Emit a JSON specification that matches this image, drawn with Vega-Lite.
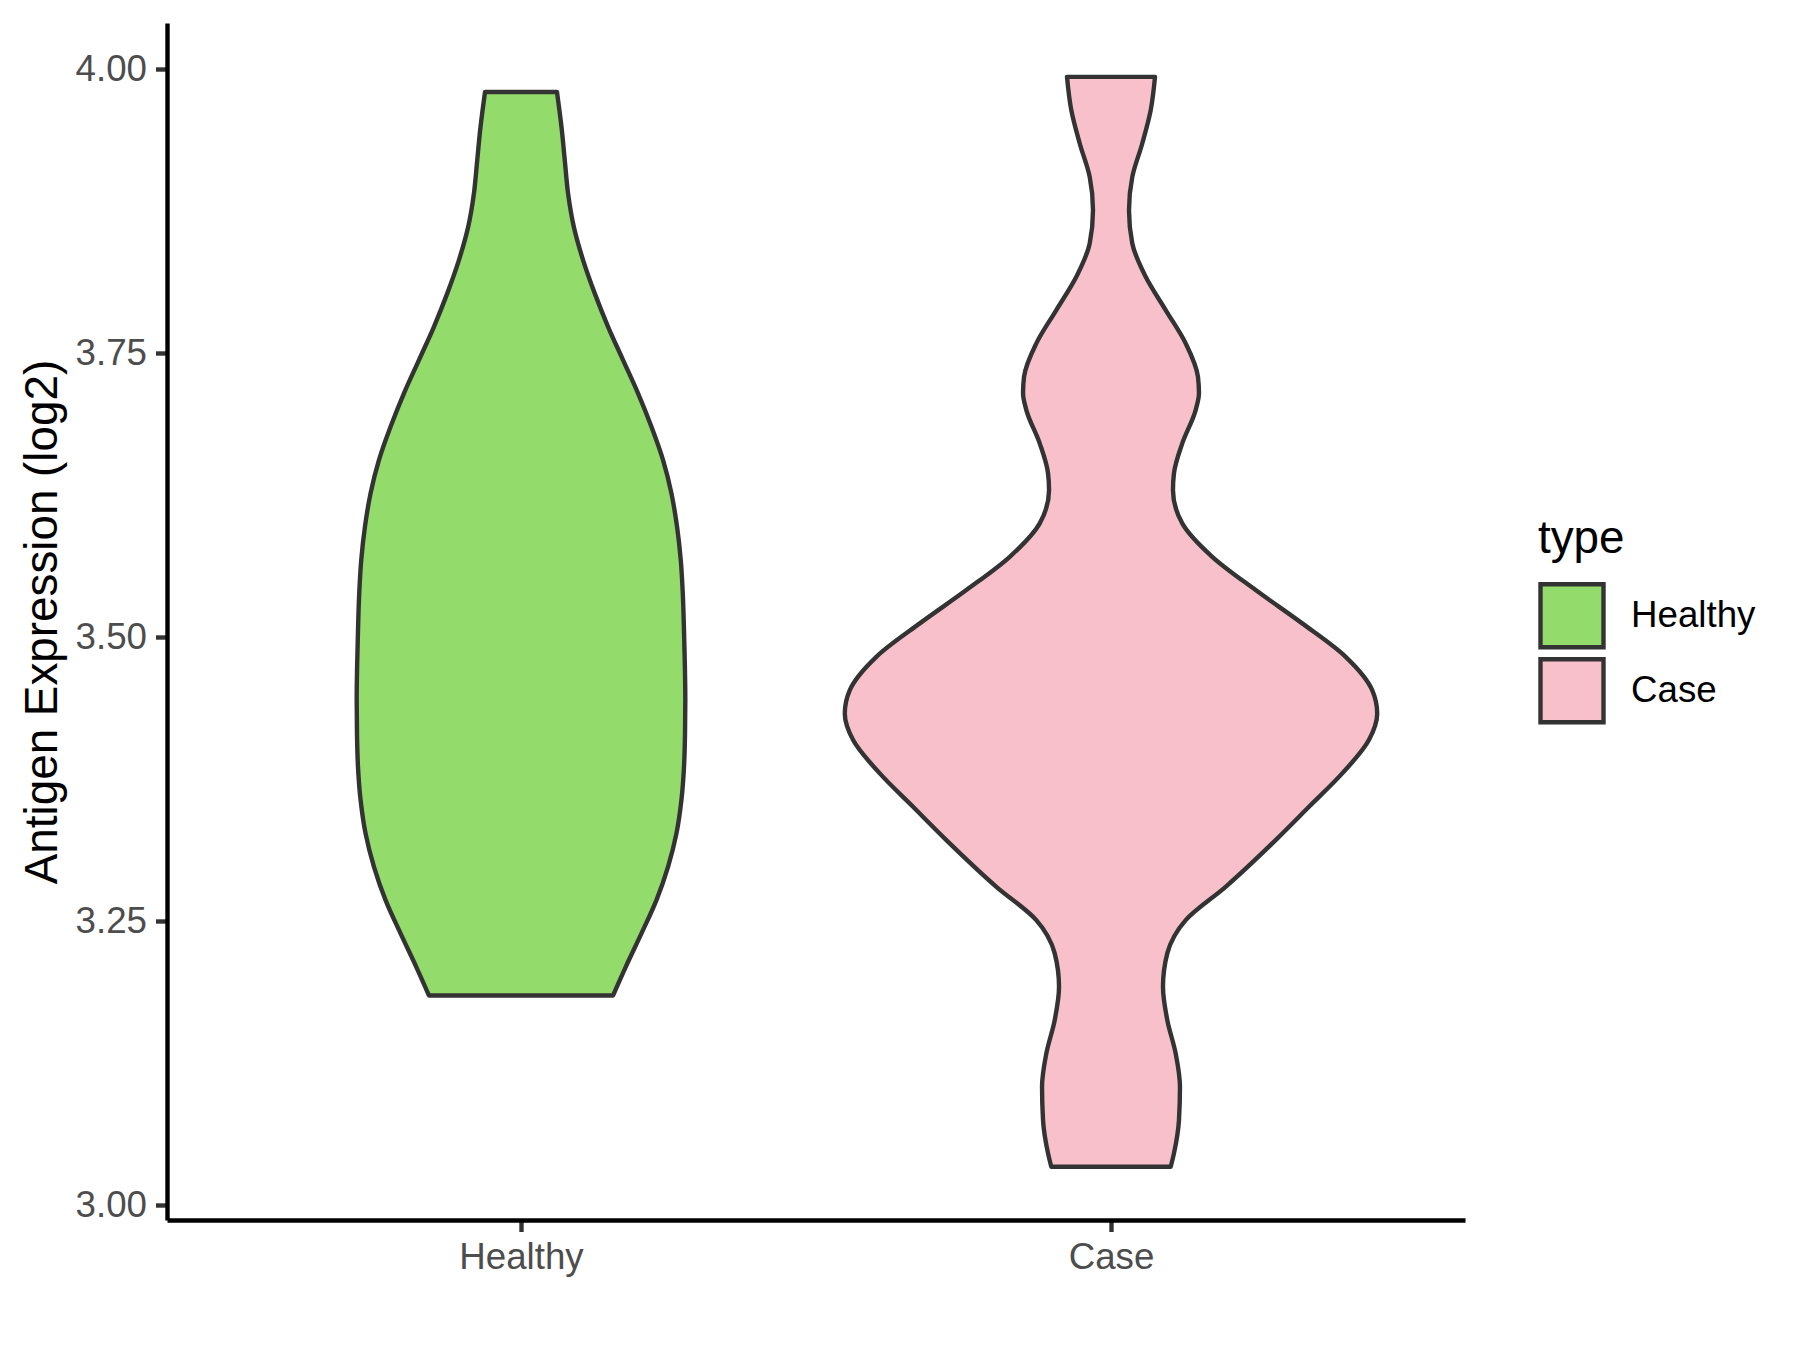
{
  "$schema": "https://vega.github.io/schema/vega-lite/v6.json",
  "width": 1298,
  "height": 1197,
  "autosize": {"type": "none"},
  "padding": {"left": 167, "top": 23, "right": 335, "bottom": 130},
  "background": "white",
  "config": {"view": {"stroke": null}, "font": "Liberation Sans"},
  "data": {
    "values": [
      {"type": "Healthy", "y": 3.9798, "xmin": 0.9390, "xmax": 1.0610},
      {"type": "Healthy", "y": 3.9491, "xmin": 0.9314, "xmax": 1.0686},
      {"type": "Healthy", "y": 3.9198, "xmin": 0.9258, "xmax": 1.0742},
      {"type": "Healthy", "y": 3.8905, "xmin": 0.9202, "xmax": 1.0798},
      {"type": "Healthy", "y": 3.8612, "xmin": 0.9105, "xmax": 1.0895},
      {"type": "Healthy", "y": 3.8319, "xmin": 0.8948, "xmax": 1.1052},
      {"type": "Healthy", "y": 3.8026, "xmin": 0.8750, "xmax": 1.1250},
      {"type": "Healthy", "y": 3.7732, "xmin": 0.8524, "xmax": 1.1476},
      {"type": "Healthy", "y": 3.7439, "xmin": 0.8270, "xmax": 1.1730},
      {"type": "Healthy", "y": 3.7146, "xmin": 0.8016, "xmax": 1.1984},
      {"type": "Healthy", "y": 3.6852, "xmin": 0.7789, "xmax": 1.2211},
      {"type": "Healthy", "y": 3.6559, "xmin": 0.7592, "xmax": 1.2408},
      {"type": "Healthy", "y": 3.6266, "xmin": 0.7450, "xmax": 1.2550},
      {"type": "Healthy", "y": 3.5972, "xmin": 0.7355, "xmax": 1.2645},
      {"type": "Healthy", "y": 3.5679, "xmin": 0.7292, "xmax": 1.2708},
      {"type": "Healthy", "y": 3.5386, "xmin": 0.7258, "xmax": 1.2742},
      {"type": "Healthy", "y": 3.5034, "xmin": 0.7236, "xmax": 1.2764},
      {"type": "Healthy", "y": 3.4740, "xmin": 0.7222, "xmax": 1.2778},
      {"type": "Healthy", "y": 3.4447, "xmin": 0.7215, "xmax": 1.2785},
      {"type": "Healthy", "y": 3.4154, "xmin": 0.7220, "xmax": 1.2780},
      {"type": "Healthy", "y": 3.3860, "xmin": 0.7237, "xmax": 1.2763},
      {"type": "Healthy", "y": 3.3567, "xmin": 0.7281, "xmax": 1.2719},
      {"type": "Healthy", "y": 3.3274, "xmin": 0.7365, "xmax": 1.2635},
      {"type": "Healthy", "y": 3.2980, "xmin": 0.7508, "xmax": 1.2492},
      {"type": "Healthy", "y": 3.2687, "xmin": 0.7704, "xmax": 1.2296},
      {"type": "Healthy", "y": 3.2394, "xmin": 0.7958, "xmax": 1.2042},
      {"type": "Healthy", "y": 3.2100, "xmin": 0.8224, "xmax": 1.1776},
      {"type": "Healthy", "y": 3.1848, "xmin": 0.8440, "xmax": 1.1560},
      {"type": "Case", "y": 3.9931, "xmin": 1.9254, "xmax": 2.0746},
      {"type": "Case", "y": 3.9638, "xmin": 1.9327, "xmax": 2.0673},
      {"type": "Case", "y": 3.9345, "xmin": 1.9470, "xmax": 2.0530},
      {"type": "Case", "y": 3.9051, "xmin": 1.9639, "xmax": 2.0361},
      {"type": "Case", "y": 3.8758, "xmin": 1.9695, "xmax": 2.0305},
      {"type": "Case", "y": 3.8465, "xmin": 1.9639, "xmax": 2.0361},
      {"type": "Case", "y": 3.8172, "xmin": 1.9412, "xmax": 2.0588},
      {"type": "Case", "y": 3.7879, "xmin": 1.9073, "xmax": 2.0927},
      {"type": "Case", "y": 3.7586, "xmin": 1.8734, "xmax": 2.1266},
      {"type": "Case", "y": 3.7292, "xmin": 1.8526, "xmax": 2.1474},
      {"type": "Case", "y": 3.7146, "xmin": 1.8509, "xmax": 2.1491},
      {"type": "Case", "y": 3.6999, "xmin": 1.8565, "xmax": 2.1435},
      {"type": "Case", "y": 3.6706, "xmin": 1.8792, "xmax": 2.1208},
      {"type": "Case", "y": 3.6442, "xmin": 1.8933, "xmax": 2.1067},
      {"type": "Case", "y": 3.6295, "xmin": 1.8950, "xmax": 2.1050},
      {"type": "Case", "y": 3.6002, "xmin": 1.8792, "xmax": 2.1208},
      {"type": "Case", "y": 3.5708, "xmin": 1.8284, "xmax": 2.1716},
      {"type": "Case", "y": 3.5415, "xmin": 1.7548, "xmax": 2.2452},
      {"type": "Case", "y": 3.5122, "xmin": 1.6759, "xmax": 2.3241},
      {"type": "Case", "y": 3.4828, "xmin": 1.6023, "xmax": 2.3977},
      {"type": "Case", "y": 3.4535, "xmin": 1.5573, "xmax": 2.4427},
      {"type": "Case", "y": 3.4330, "xmin": 1.5488, "xmax": 2.4512},
      {"type": "Case", "y": 3.4095, "xmin": 1.5629, "xmax": 2.4371},
      {"type": "Case", "y": 3.3802, "xmin": 1.6081, "xmax": 2.3919},
      {"type": "Case", "y": 3.3508, "xmin": 1.6645, "xmax": 2.3355},
      {"type": "Case", "y": 3.3215, "xmin": 1.7209, "xmax": 2.2791},
      {"type": "Case", "y": 3.2804, "xmin": 1.8057, "xmax": 2.1943},
      {"type": "Case", "y": 3.2511, "xmin": 1.8734, "xmax": 2.1266},
      {"type": "Case", "y": 3.2218, "xmin": 1.9046, "xmax": 2.0954},
      {"type": "Case", "y": 3.1924, "xmin": 1.9119, "xmax": 2.0881},
      {"type": "Case", "y": 3.1631, "xmin": 1.9046, "xmax": 2.0954},
      {"type": "Case", "y": 3.1338, "xmin": 1.8904, "xmax": 2.1096},
      {"type": "Case", "y": 3.1044, "xmin": 1.8831, "xmax": 2.1169},
      {"type": "Case", "y": 3.0751, "xmin": 1.8848, "xmax": 2.1152},
      {"type": "Case", "y": 3.0458, "xmin": 1.8933, "xmax": 2.1067},
      {"type": "Case", "y": 3.0340, "xmin": 1.8988, "xmax": 2.1012}
    ]
  },
  "mark": {
    "type": "area",
    "orient": "horizontal",
    "interpolate": "monotone",
    "stroke": "#333333",
    "strokeWidth": 4.4,
    "strokeJoin": "round",
    "fillOpacity": 1
  },
  "encoding": {
    "y": {
      "field": "y",
      "type": "quantitative",
      "scale": {"domain": [2.9872, 4.0405], "nice": false, "zero": false},
      "axis": {
        "values": [3, 3.25, 3.5, 3.75, 4],
        "format": ".2f",
        "grid": false,
        "title": "Antigen Expression (log2)",
        "titleFont": "Liberation Sans",
        "titleFontSize": 45.8,
        "titleFontWeight": "normal",
        "titleColor": "black",
        "titleX": -111,
        "titleY": 598.5,
        "titleAngle": -90,
        "titleBaseline": "alphabetic",
        "titleAlign": "center",
        "labelFont": "Liberation Sans",
        "labelFontSize": 36.7,
        "labelColor": "#4D4D4D",
        "labelPadding": 9,
        "labelFlush": false,
        "labelOverlap": false,
        "tickSize": 11.5,
        "tickWidth": 4.4,
        "tickColor": "#333333",
        "domainColor": "black",
        "domainWidth": 4.4
      }
    },
    "x": {
      "field": "xmin",
      "type": "quantitative",
      "stack": null,
      "scale": {"domain": [0.4, 2.6], "nice": false, "zero": false},
      "axis": {
        "values": [1, 2],
        "labelExpr": "datum.value == 1 ? 'Healthy' : 'Case'",
        "title": null,
        "grid": false,
        "labelFont": "Liberation Sans",
        "labelFontSize": 36.7,
        "labelColor": "#4D4D4D",
        "labelPadding": 8,
        "labelFlush": false,
        "labelOverlap": false,
        "tickSize": 11.5,
        "tickWidth": 4.4,
        "tickColor": "#333333",
        "domainColor": "black",
        "domainWidth": 4.4
      }
    },
    "x2": {"field": "xmax"},
    "color": {
      "field": "type",
      "type": "nominal",
      "scale": {"domain": ["Healthy", "Case"], "range": ["#93DB6B", "#F8C0CB"]},
      "legend": {
        "orient": "none",
        "legendX": 1371,
        "legendY": 494,
        "title": "type",
        "titleFont": "Liberation Sans",
        "titleFontSize": 45.8,
        "titleFontWeight": "normal",
        "titleColor": "black",
        "titlePadding": 19,
        "labelFont": "Liberation Sans",
        "labelFontSize": 36.7,
        "labelColor": "black",
        "labelOffset": 25,
        "symbolType": "square",
        "symbolSize": 3970,
        "symbolStrokeColor": "#333333",
        "symbolStrokeWidth": 4.4,
        "symbolOpacity": 1,
        "rowPadding": -9,
        "padding": 0
      }
    }
  }
}
